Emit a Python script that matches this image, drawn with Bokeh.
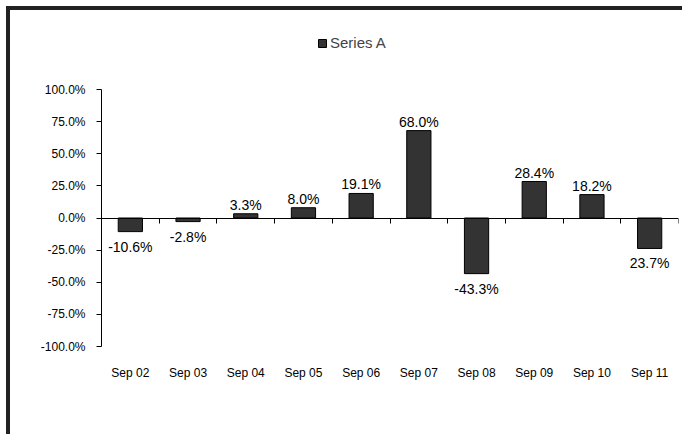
from bokeh.plotting import figure
from bokeh.models import (ColumnDataSource, Range1d, LinearAxis, FixedTicker,
                          PrintfTickFormatter, CustomJSTickFormatter, Legend, LegendItem)
from bokeh.core.properties import value
from bokeh.embed import file_html
from bokeh.resources import INLINE

categories = ["Sep 02", "Sep 03", "Sep 04", "Sep 05", "Sep 06",
              "Sep 07", "Sep 08", "Sep 09", "Sep 10", "Sep 11"]
values = [-10.6, -2.8, 3.3, 8.0, 19.1, 68.0, -43.3, 28.4, 18.2, -23.7]
labels = ["-10.6%", "-2.8%", "3.3%", "8.0%", "19.1%", "68.0%", "-43.3%", "28.4%", "18.2%", "23.7%"]
y_ticks = [-100, -75, -50, -25, 0, 25, 50, 75, 100]
series_name = "Series A"

FONT = "Liberation Sans"
n = len(categories)
xs = [i + 0.5 for i in range(n)]

# frame extends above the 100% line so the legend can sit inside it
TOP_BORDER = 10
FRAME_H = 428 - TOP_BORDER - 92
Y_MAX = -100 + FRAME_H * 200.0 / 257.0

src = ColumnDataSource(dict(
    x=xs, top=values, text=labels,
    base=["bottom" if v >= 0 else "top" for v in values],
    yoff=[-1 if v >= 0 else 7 for v in values],
))

p = figure(width=676, height=428, output_backend="svg", toolbar_location=None,
           x_range=Range1d(0, n), y_range=Range1d(-100, Y_MAX),
           min_border_left=91, min_border_right=8, min_border_top=TOP_BORDER,
           min_border_bottom=92)
p.styles = {"border-top": "4px solid #222222", "border-left": "4px solid #222222",
            "margin-left": "6px", "margin-top": "6px"}
p.outline_line_color = None
p.xgrid.visible = False
p.ygrid.visible = False
p.background_fill_color = "white"
p.border_fill_color = "white"

bars = p.vbar(x="x", top="top", bottom=0, width=0.42, source=src,
              fill_color="#333333", line_color="black", line_width=1)

p.text(x="x", y="top", text="text", source=src, text_align="center",
       text_baseline="base", y_offset="yoff", text_font=value(FONT),
       text_font_size="14px", text_color="black")

# y axis
yax = p.yaxis[0]
yax.ticker = FixedTicker(ticks=y_ticks)
yax.bounds = (y_ticks[0], y_ticks[-1])
yax.formatter = PrintfTickFormatter(format="%.1f%%")
yax.major_tick_out = 5
yax.major_tick_in = 0
yax.minor_tick_out = 0
yax.minor_tick_in = 0
yax.axis_line_color = "black"
yax.major_tick_line_color = "black"
yax.major_label_text_font = FONT
yax.major_label_text_font_size = "12px"
yax.major_label_text_color = "black"
yax.major_label_standoff = 11

# category labels axis (bottom)
xax = p.xaxis[0]
xax.ticker = FixedTicker(ticks=xs)
xax.formatter = CustomJSTickFormatter(args=dict(cats=categories),
                                      code="return cats[Math.floor(tick)];")
xax.axis_line_color = None
xax.major_tick_line_color = None
xax.minor_tick_line_color = None
xax.major_label_text_font = FONT
xax.major_label_text_font_size = "12px"
xax.major_label_text_color = "black"
xax.major_label_standoff = 13

# zero-line axis with boundary ticks
zax = LinearAxis(fixed_location=0, ticker=FixedTicker(ticks=list(range(n + 1))),
                 formatter=CustomJSTickFormatter(code="return '';"))
zax.axis_line_color = "black"
zax.major_tick_line_color = "black"
zax.major_tick_out = 5
zax.major_tick_in = 0
zax.minor_tick_out = 0
zax.minor_tick_in = 0
zax.major_label_text_font_size = "0px"
p.add_layout(zax, "below")

legend = Legend(items=[LegendItem(label=series_name, renderers=[bars])],
                location=(216, 295), orientation="horizontal",
                padding=0, margin=0, spacing=0, label_standoff=3,
                glyph_width=10, glyph_height=10, label_height=10,
                label_text_font=FONT, label_text_font_size="15px",
                border_line_color=None, background_fill_alpha=0)
p.add_layout(legend, "center")

open("out.html", "w").write(file_html(p, INLINE))
